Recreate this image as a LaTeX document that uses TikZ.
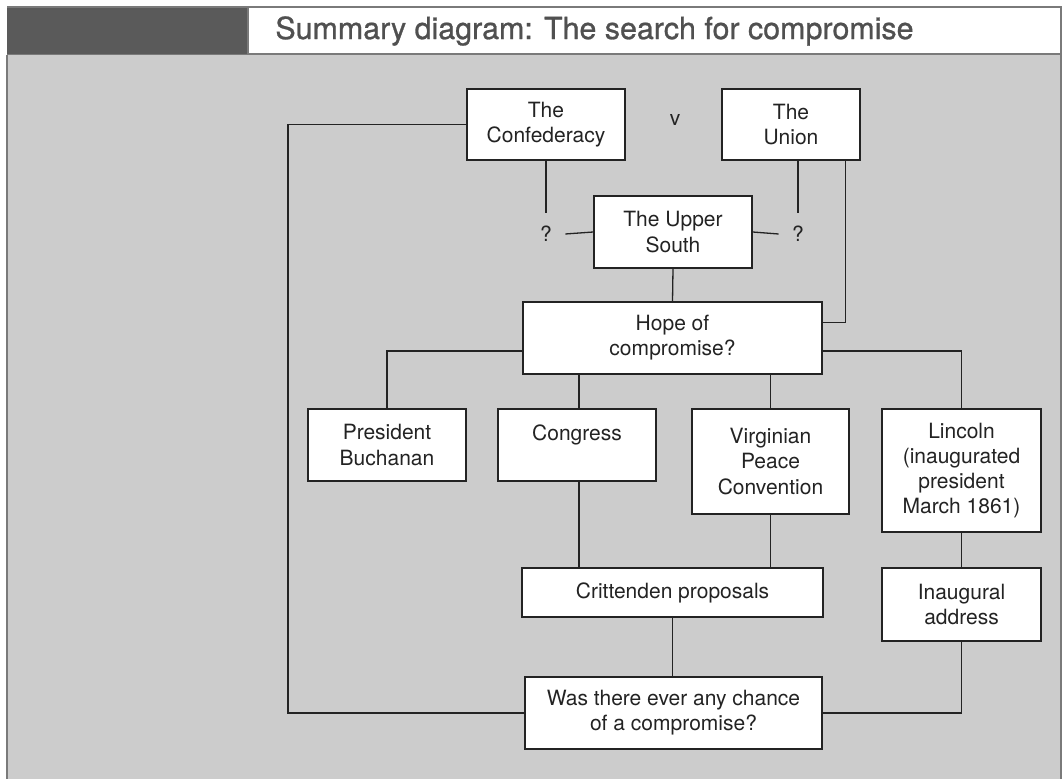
\documentclass[tikz,border=0pt]{standalone}
\usepackage{fontspec}
\setsansfont{TeX Gyre Heros}
\newfontfamily\headfont[FakeBold=0.9]{TeX Gyre Heros}
\usepackage{xcolor}
\definecolor{Ink}{HTML}{232323}
\definecolor{Slate}{HTML}{5A5A5A}
\definecolor{Panel}{HTML}{CCCCCC}
\definecolor{Rule}{HTML}{7A7A7A}
\definecolor{TitleInk}{HTML}{505050}
\colorlet{ink}{Ink}
\colorlet{slate}{Slate}
\colorlet{panel}{Panel}
\colorlet{rule}{Rule}
\usepackage{tikz}
\usetikzlibrary{positioning}

\begin{document}
\begin{tikzpicture}[x=0.5pt,y=-0.5pt,
  every node/.style={font=\sffamily\fontsize{10.5}{12.6}\selectfont,align=center,text=ink},
  box/.style={draw=ink,fill=white,line width=0.65pt,inner sep=2pt,minimum width=79pt,minimum height=36pt},
  wide/.style={box,minimum width=149.5pt},
  qmark/.style={inner sep=6.6pt},
  link/.style={draw=ink,line width=0.65pt}]
\useasboundingbox (0,0) rectangle (1064,779);
% header band and grey panel
\fill[panel] (7,55) rectangle (1061,779);
\draw[rule,line width=1pt] (7,55) -- (7,779) (1061,55) -- (1061,779);
\fill[slate] (7,7) rectangle (248,54);
\draw[rule,fill=white,line width=0.6pt] (248,7) rectangle (1061,54);
\draw[rule,line width=0.8pt] (7,7) -- (1061,7) (7,54.5) -- (1061,54.5);
\node[anchor=west,inner sep=0pt,text=TitleInk,font=\headfont\fontsize{15.2}{18}\selectfont] (title) at (275,31) {Summary diagram: The search for compromise};
% top row
\node[box,minimum height=35.5pt] (conf) at (546,124.5) {The\\Confederacy};
\node[box,minimum width=69pt,minimum height=35.5pt] (union) at (791,124.5) {The\\Union};
\node (vs) at (675,120) {v};
\node[box] (upper) at (673,232) {The Upper\\South};
\node[qmark] (qleft) at (546,234) {?};
\node[qmark] (qright) at (798,234) {?};
\node[wide] (hope) at (672.5,338) {Hope of\\compromise?};
% the four routes
\node[box] (pres) at (387,445) {President\\Buchanan};
\node[box] (cong) at (577,445) {Congress\\\mbox{}};
\node[box,minimum width=78.5pt,minimum height=52.5pt] (virg) at (770.5,461.5) {Virginian\\Peace\\Convention};
\node[box,minimum width=79.5pt,minimum height=61.5pt] (linc) at (961.5,470.5) {Lincoln\\(inaugurated\\president\\March 1861)};
\node[wide,minimum width=150.5pt,minimum height=24.5pt] (crit) at (672.5,592.5) {Crittenden proposals};
\node[box,minimum width=79.5pt,minimum height=36.5pt] (inaug) at (961.5,604.5) {Inaugural\\address};
\node[wide,minimum width=148.5pt] (was) at (673.5,713) {Was there ever any chance\\of a compromise?};
\coordinate (lft) at (288,400);
% connectors
\draw[link] (conf.south) -- (qleft.north);\draw[link] (qleft.east) -- (upper.west);
\draw[link] (union.south -| qright) -- (qright.north);\draw[link] (upper.east) -- (qright.west);
\draw[link] ([xshift=-7.5pt]union.south east) |- ([yshift=-10.5pt]hope.north east);
\draw[link] (upper.south) -- (hope.north);
\draw[link] ([yshift=-6.5pt]hope.west) -| (pres.north);\draw[link] ([yshift=-6.5pt]hope.east) -| (linc.north);
\draw[link] ([xshift=1pt]cong.north |- hope.south) -- ([xshift=1pt]cong.north);\draw[link] (virg.north |- hope.south) -- (virg.north);
\draw[link] ([xshift=1pt]cong.south) -- ([xshift=1pt]cong.south |- crit.north);\draw[link] (virg.south) -- (virg.south |- crit.north);
\draw[link] (linc.south) -- (inaug.north);\draw[link] (crit.south) -- (crit.south |- was.north);
\draw[link] (inaug.south) |- (was.east);
\draw[link] (conf.west) -| (lft) |- (was.west);
\end{tikzpicture}
\end{document}
